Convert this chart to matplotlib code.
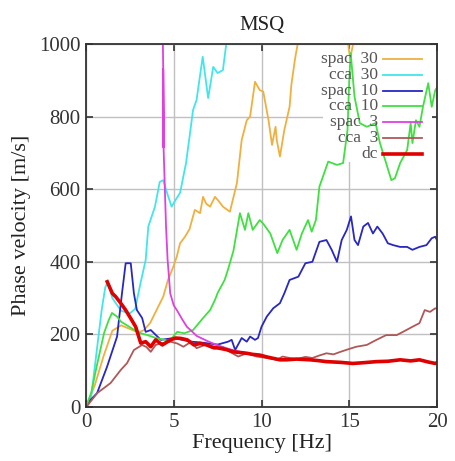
import numpy as np
import matplotlib
matplotlib.use('agg')
import matplotlib.pyplot as plt
from matplotlib.patches import Rectangle

## Data (frequency [Hz], phase velocity [m/s])
f_spac30 = [0, 0.5, 1.0, 1.5, 2.0, 2.5, 3.0, 3.3, 3.65, 4.0, 4.4, 4.67, 4.97, 5.17, 5.36,
            5.64, 5.9, 6.2, 6.5, 6.67, 6.85, 7.07, 7.35, 7.6, 7.8, 8.2, 8.6, 8.87, 9.16,
            9.35, 9.63, 9.9, 10.1, 10.4, 10.6, 10.8, 10.87, 11.05, 11.3, 11.6, 11.7, 11.9,
            12.1, 12.3, 13.0, 14.0, 14.85, 15.05, 15.2, 15.4, 16.0]
v_spac30 = [0, 60, 140, 210, 225, 215, 205, 212, 231, 265, 304, 350, 386, 414, 451,
            469, 490, 543, 534, 579, 560, 552, 579, 565, 552, 538, 617, 735, 790,
            800, 896, 873, 869, 790, 722, 772, 735, 690, 763, 827, 887, 956,
            1011, 1080, 1150, 1150, 1030, 960, 995, 1080, 1200]

f_cca30 = [0, 0.3, 0.6, 0.9, 1.1, 1.25, 1.5, 2.0, 2.5, 2.8, 3.1, 3.4, 3.55, 3.93, 4.2,
           4.4, 4.65, 4.88, 5.1, 5.36, 5.7, 6.1, 6.3, 6.65, 6.96, 7.25, 7.5, 7.8, 8.0, 8.2]
v_cca30 = [0, 30, 150, 270, 330, 345, 300, 265, 258, 270, 340, 405, 497, 552, 620,
           625, 585, 552, 570, 590, 672, 818, 846, 965, 851, 937, 920, 928, 1003, 1060]

f_spac10 = [0, 0.06, 0.63, 1.2, 1.77, 2.05, 2.26, 2.55, 2.73, 2.9, 3.2, 3.4, 3.69, 4.26,
            5.0, 5.5, 6.0, 6.5, 7.0, 7.5, 8.1, 8.3, 8.5, 8.87, 9.16, 9.35, 9.63, 9.8,
            10.0, 10.3, 10.67, 11.05, 11.3, 11.6, 12.1, 12.5, 12.9, 13.3, 13.7, 14.0,
            14.3, 14.57, 14.86, 15.1, 15.3, 15.5, 15.8, 16.07, 16.35, 16.6, 16.9, 17.2,
            17.5, 17.9, 18.3, 18.6, 19.0, 19.4, 19.7, 19.9, 20.0]
v_spac10 = [0, 10, 38, 111, 194, 313, 396, 396, 313, 267, 245, 207, 212, 185,
            190, 185, 180, 178, 175, 172, 180, 185, 157, 190, 180, 194, 185, 190,
            221, 249, 272, 286, 313, 350, 359, 396, 400, 455, 460, 433,
            400, 460, 488, 525, 460, 446, 497, 507, 478, 497, 478, 451,
            446, 441, 441, 433, 441, 446, 465, 469, 460]

f_cca10 = [0, 0.3, 0.6, 1.03, 1.3, 1.48, 1.77, 2.0, 2.5, 3.0, 3.5, 4.0, 4.5, 4.73, 5.2,
           5.6, 6.1, 6.67, 7.07, 7.35, 7.5, 7.9, 8.1, 8.4, 8.77, 9.06, 9.25, 9.5, 9.9,
           10.1, 10.5, 10.9, 11.2, 11.6, 12.0, 12.3, 12.65, 12.86, 13.1, 13.3, 13.8,
           14.3, 14.65, 14.9, 15.0, 15.08, 15.3, 15.6, 16.0, 16.5, 16.75, 17.1, 17.4,
           17.6, 17.9, 18.3, 18.5, 18.6, 18.8, 19.0, 19.2, 19.5, 19.7, 19.9, 20.0]
v_cca10 = [0, 40, 110, 204, 240, 259, 249, 235, 220, 205, 198, 190, 185, 180, 207,
           203, 212, 245, 267, 295, 314, 350, 380, 430, 534, 488, 534, 488, 515,
           505, 478, 424, 460, 488, 433, 478, 515, 483, 515, 607, 676,
           667, 672, 763, 900, 975, 855, 782, 772, 782, 727, 672, 625,
           630, 672, 708, 782, 727, 790, 772, 827, 892, 827, 873, 880]

f_spac3 = [4.35, 4.38, 4.40, 4.42, 4.40, 4.42, 4.56, 4.65, 4.8, 5.0, 5.2, 5.5, 5.75,
           6.0, 6.3, 6.9, 7.45, 8.0, 8.5, 9.0]
v_spac3 = [1050, 1000, 930, 715, 930, 715, 497, 405, 313, 280, 265, 240, 221,
           210, 196, 182, 171, 162, 155, 150]

f_cca3 = [0, 0.1, 0.63, 1.4, 1.98, 2.34, 2.73, 2.9, 3.2, 3.45, 3.69, 3.97, 4.33, 4.8,
          5.2, 5.55, 6.0, 6.3, 6.78, 7.3, 7.8, 8.2, 8.67, 9.16, 9.73, 10.3, 10.87,
          11.2, 11.6, 12.0, 12.5, 12.9, 13.3, 13.7, 14.1, 14.5, 15.0, 15.4, 16.0,
          16.55, 17.1, 17.7, 18.06, 18.6, 19.0, 19.3, 19.6, 19.9, 20.0]
v_cca3 = [0, 5, 38, 66, 102, 121, 157, 162, 171, 165, 152, 171, 176, 180,
          175, 166, 180, 162, 171, 160, 165, 152, 139, 148, 139, 135, 130,
          139, 135, 132, 138, 135, 142, 148, 145, 152, 160, 166, 171,
          185, 198, 198, 207, 221, 231, 267, 262, 272, 270]

f_dc = [1.21, 1.5, 1.69, 1.98, 2.26, 2.55, 2.83, 3.12, 3.4, 3.69, 3.97, 4.35, 4.82,
        5.1, 5.4, 5.77, 6.15, 6.5, 6.88, 7.2, 7.6, 8.0, 8.4, 8.8, 9.16, 9.5, 9.9,
        10.3, 10.67, 11.05, 11.4, 12.0, 12.76, 13.2, 13.7, 14.5, 15.2, 15.8, 16.55,
        17.2, 17.9, 18.5, 19.0, 19.5, 19.9, 20.0]
v_dc = [345, 313, 304, 286, 267, 244, 221, 176, 180, 166, 185, 171, 185,
        190, 189, 185, 171, 175, 171, 165, 162, 158, 152, 150, 148, 145, 143,
        138, 134, 130, 130, 132, 130, 128, 125, 123, 120, 122, 125,
        126, 130, 127, 130, 124, 120, 122]

labels = ['spac  30', 'cca  30', 'spac  10', 'cca  10', 'spac  3', 'cca  3', 'dc']
colors = ['#f0b040', '#40e6ea', '#2828c0', '#40e040', '#e040e0', '#b05858', '#e00000']
widths = [1.3, 1.3, 1.3, 1.3, 1.3, 1.3, 2.6]
series = [(f_spac30, v_spac30), (f_cca30, v_cca30), (f_spac10, v_spac10),
          (f_cca10, v_cca10), (f_spac3, v_spac3), (f_cca3, v_cca3), (f_dc, v_dc)]

### Plotting
plt.rcParams['font.family'] = ['Liberation Serif', 'DejaVu Serif']
plt.rcParams['font.size'] = 15

fig = plt.figure(figsize=(4.55, 4.61), dpi=100)
ax = fig.add_axes([86/455, 1-407/461, 351/455, 363/461])

ax.set_axisbelow(True)
ax.grid(True, color='#c0c0c0', linewidth=1.0, zorder=0)

# opaque key box (hides grid, not the curves)
ax.add_patch(Rectangle((0.675, 0.675), 0.31, 0.31, transform=ax.transAxes,
                       facecolor='white', edgecolor='none', zorder=1.5))

for (f, v), lab, c, lw in zip(series, labels, colors, widths):
    ax.plot(f, v, color=c, linewidth=lw, zorder=2)

# gnuplot-style key: text right-aligned, sample to the right
for i, (lab, c, lw) in enumerate(zip(labels, colors, widths)):
    y = 0.958 - i*0.0433
    ax.plot([0.846, 0.957], [y, y], color=c, linewidth=lw, transform=ax.transAxes,
            zorder=3, clip_on=False)
    ax.text(0.832, y, lab, transform=ax.transAxes, ha='right', va='center',
            fontsize=12.5, color='#555555', zorder=4)

ax.set_xlim(0, 20)
ax.set_ylim(0, 1000)
ax.set_xticks([0, 5, 10, 15, 20])
ax.set_yticks([0, 200, 400, 600, 800, 1000])
ax.tick_params(direction='in', length=5, width=1.2, top=True, right=True,
               colors='#333333', labelsize=15, pad=4)
for s in ax.spines.values():
    s.set_linewidth(1.3)
    s.set_color('#333333')

ax.set_xlabel('Frequency [Hz]', fontsize=16, color='#222222', labelpad=2)
ax.set_ylabel('Phase velocity [m/s]', fontsize=16, color='#222222', labelpad=6)
ax.set_title('MSQ', fontsize=15, color='#222222', pad=10)

plt.savefig('out.png', dpi=100)
